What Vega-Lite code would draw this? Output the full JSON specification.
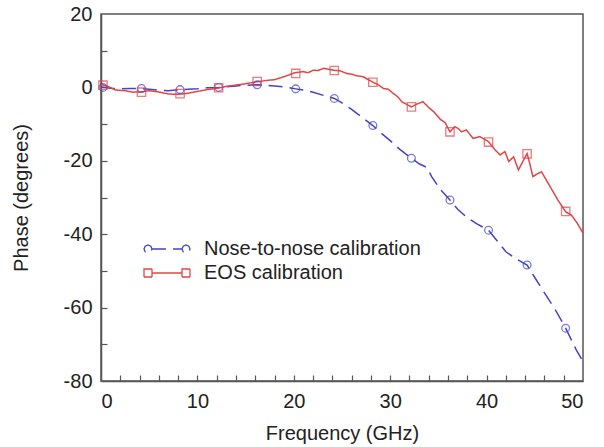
{
  "$schema": "https://vega.github.io/schema/vega-lite/v6.json",
  "width": 482,
  "height": 367,
  "autosize": "none",
  "padding": {"left": 101, "top": 14, "right": 21, "bottom": 66},
  "background": "white",
  "config": {
    "font": "Liberation Sans",
    "view": {"stroke": "#555", "strokeWidth": 1.5},
    "axis": {
      "grid": false,
      "domainColor": "#555",
      "domainWidth": 1.5,
      "tickColor": "#555",
      "tickWidth": 1.2,
      "labelFontSize": 20,
      "labelColor": "#222",
      "titleFontSize": 20,
      "titleFontWeight": "normal",
      "titleColor": "#222"
    }
  },
  "resolve": {"axis": {"x": "independent", "y": "independent"}},
  "datasets": {
    "curves": [
      {"f": 0, "phase": 0.1, "series": "Nose-to-nose calibration"},
      {"f": 1, "phase": -0.2, "series": "Nose-to-nose calibration"},
      {"f": 2, "phase": -0.4, "series": "Nose-to-nose calibration"},
      {"f": 3, "phase": -0.3, "series": "Nose-to-nose calibration"},
      {"f": 4.2, "phase": -0.3, "series": "Nose-to-nose calibration"},
      {"f": 5, "phase": -0.5, "series": "Nose-to-nose calibration"},
      {"f": 6, "phase": -0.8, "series": "Nose-to-nose calibration"},
      {"f": 7, "phase": -0.9, "series": "Nose-to-nose calibration"},
      {"f": 8.2, "phase": -0.6, "series": "Nose-to-nose calibration"},
      {"f": 9, "phase": -0.5, "series": "Nose-to-nose calibration"},
      {"f": 10, "phase": -0.4, "series": "Nose-to-nose calibration"},
      {"f": 11, "phase": -0.1, "series": "Nose-to-nose calibration"},
      {"f": 12.2, "phase": 0, "series": "Nose-to-nose calibration"},
      {"f": 13, "phase": 0.2, "series": "Nose-to-nose calibration"},
      {"f": 14, "phase": 0.4, "series": "Nose-to-nose calibration"},
      {"f": 15, "phase": 0.6, "series": "Nose-to-nose calibration"},
      {"f": 16.2, "phase": 0.7, "series": "Nose-to-nose calibration"},
      {"f": 17, "phase": 0.6, "series": "Nose-to-nose calibration"},
      {"f": 18, "phase": 0.4, "series": "Nose-to-nose calibration"},
      {"f": 19, "phase": 0.1, "series": "Nose-to-nose calibration"},
      {"f": 20.2, "phase": -0.4, "series": "Nose-to-nose calibration"},
      {"f": 21, "phase": -0.7, "series": "Nose-to-nose calibration"},
      {"f": 22, "phase": -1.3, "series": "Nose-to-nose calibration"},
      {"f": 23, "phase": -2.1, "series": "Nose-to-nose calibration"},
      {"f": 24.2, "phase": -3.0, "series": "Nose-to-nose calibration"},
      {"f": 25, "phase": -4.2, "series": "Nose-to-nose calibration"},
      {"f": 26, "phase": -6.0, "series": "Nose-to-nose calibration"},
      {"f": 27, "phase": -8.0, "series": "Nose-to-nose calibration"},
      {"f": 28.2, "phase": -10.4, "series": "Nose-to-nose calibration"},
      {"f": 29, "phase": -12.3, "series": "Nose-to-nose calibration"},
      {"f": 30, "phase": -14.5, "series": "Nose-to-nose calibration"},
      {"f": 31, "phase": -16.9, "series": "Nose-to-nose calibration"},
      {"f": 32.2, "phase": -19.3, "series": "Nose-to-nose calibration"},
      {"f": 33, "phase": -20.8, "series": "Nose-to-nose calibration"},
      {"f": 33.8, "phase": -21.8, "series": "Nose-to-nose calibration"},
      {"f": 34.3, "phase": -24.3, "series": "Nose-to-nose calibration"},
      {"f": 35.2, "phase": -27.8, "series": "Nose-to-nose calibration"},
      {"f": 36.2, "phase": -30.7, "series": "Nose-to-nose calibration"},
      {"f": 37, "phase": -33.2, "series": "Nose-to-nose calibration"},
      {"f": 38, "phase": -35.5, "series": "Nose-to-nose calibration"},
      {"f": 39, "phase": -37.2, "series": "Nose-to-nose calibration"},
      {"f": 40.2, "phase": -38.9, "series": "Nose-to-nose calibration"},
      {"f": 41, "phase": -41.5, "series": "Nose-to-nose calibration"},
      {"f": 42, "phase": -44.8, "series": "Nose-to-nose calibration"},
      {"f": 43, "phase": -46.6, "series": "Nose-to-nose calibration"},
      {"f": 44.2, "phase": -48.4, "series": "Nose-to-nose calibration"},
      {"f": 45, "phase": -51.8, "series": "Nose-to-nose calibration"},
      {"f": 46, "phase": -56.0, "series": "Nose-to-nose calibration"},
      {"f": 47, "phase": -60.0, "series": "Nose-to-nose calibration"},
      {"f": 48.2, "phase": -65.6, "series": "Nose-to-nose calibration"},
      {"f": 49.3, "phase": -71.5, "series": "Nose-to-nose calibration"},
      {"f": 50, "phase": -74.7, "series": "Nose-to-nose calibration"},
      {"f": 0, "phase": 0.8, "series": "EOS calibration"},
      {"f": 0.7, "phase": 0.3, "series": "EOS calibration"},
      {"f": 1.5, "phase": -0.7, "series": "EOS calibration"},
      {"f": 2.5, "phase": -0.9, "series": "EOS calibration"},
      {"f": 3.3, "phase": -1.3, "series": "EOS calibration"},
      {"f": 4.2, "phase": -1.2, "series": "EOS calibration"},
      {"f": 5.0, "phase": -0.9, "series": "EOS calibration"},
      {"f": 5.9, "phase": -1.2, "series": "EOS calibration"},
      {"f": 7.0, "phase": -1.8, "series": "EOS calibration"},
      {"f": 8.0, "phase": -1.9, "series": "EOS calibration"},
      {"f": 9.0, "phase": -1.6, "series": "EOS calibration"},
      {"f": 9.8, "phase": -1.2, "series": "EOS calibration"},
      {"f": 11.0, "phase": -0.6, "series": "EOS calibration"},
      {"f": 12.2, "phase": -0.2, "series": "EOS calibration"},
      {"f": 13.0, "phase": 0.3, "series": "EOS calibration"},
      {"f": 13.9, "phase": 0.6, "series": "EOS calibration"},
      {"f": 15.0, "phase": 1.0, "series": "EOS calibration"},
      {"f": 16.3, "phase": 1.6, "series": "EOS calibration"},
      {"f": 17.2, "phase": 1.9, "series": "EOS calibration"},
      {"f": 18.0, "phase": 2.1, "series": "EOS calibration"},
      {"f": 18.6, "phase": 2.6, "series": "EOS calibration"},
      {"f": 19.3, "phase": 3.2, "series": "EOS calibration"},
      {"f": 20.1, "phase": 4.0, "series": "EOS calibration"},
      {"f": 21.0, "phase": 4.3, "series": "EOS calibration"},
      {"f": 21.5, "phase": 4.0, "series": "EOS calibration"},
      {"f": 22.0, "phase": 4.7, "series": "EOS calibration"},
      {"f": 22.5, "phase": 4.6, "series": "EOS calibration"},
      {"f": 23.1, "phase": 5.2, "series": "EOS calibration"},
      {"f": 24.1, "phase": 4.7, "series": "EOS calibration"},
      {"f": 24.8, "phase": 4.5, "series": "EOS calibration"},
      {"f": 25.5, "phase": 3.8, "series": "EOS calibration"},
      {"f": 26.0, "phase": 3.6, "series": "EOS calibration"},
      {"f": 26.5, "phase": 3.2, "series": "EOS calibration"},
      {"f": 27.2, "phase": 2.9, "series": "EOS calibration"},
      {"f": 28.2, "phase": 1.4, "series": "EOS calibration"},
      {"f": 28.7, "phase": 0.8, "series": "EOS calibration"},
      {"f": 29.3, "phase": -0.3, "series": "EOS calibration"},
      {"f": 29.8, "phase": -0.5, "series": "EOS calibration"},
      {"f": 30.3, "phase": -1.6, "series": "EOS calibration"},
      {"f": 30.8, "phase": -2.6, "series": "EOS calibration"},
      {"f": 31.2, "phase": -3.9, "series": "EOS calibration"},
      {"f": 31.7, "phase": -4.6, "series": "EOS calibration"},
      {"f": 32.2, "phase": -5.3, "series": "EOS calibration"},
      {"f": 32.8, "phase": -4.5, "series": "EOS calibration"},
      {"f": 33.4, "phase": -3.9, "series": "EOS calibration"},
      {"f": 34.0, "phase": -5.5, "series": "EOS calibration"},
      {"f": 34.5, "phase": -6.6, "series": "EOS calibration"},
      {"f": 35.2, "phase": -8.7, "series": "EOS calibration"},
      {"f": 35.7, "phase": -9.6, "series": "EOS calibration"},
      {"f": 36.2, "phase": -12.1, "series": "EOS calibration"},
      {"f": 36.7, "phase": -10.7, "series": "EOS calibration"},
      {"f": 37.1, "phase": -11.3, "series": "EOS calibration"},
      {"f": 37.4, "phase": -12.1, "series": "EOS calibration"},
      {"f": 37.9, "phase": -11.6, "series": "EOS calibration"},
      {"f": 38.6, "phase": -13.9, "series": "EOS calibration"},
      {"f": 39.3, "phase": -13.4, "series": "EOS calibration"},
      {"f": 40.2, "phase": -14.8, "series": "EOS calibration"},
      {"f": 40.9, "phase": -17.1, "series": "EOS calibration"},
      {"f": 41.4, "phase": -18.4, "series": "EOS calibration"},
      {"f": 41.9, "phase": -17.5, "series": "EOS calibration"},
      {"f": 42.3, "phase": -20.2, "series": "EOS calibration"},
      {"f": 42.8, "phase": -18.9, "series": "EOS calibration"},
      {"f": 43.3, "phase": -22.5, "series": "EOS calibration"},
      {"f": 43.7, "phase": -20.5, "series": "EOS calibration"},
      {"f": 44.2, "phase": -18.0, "series": "EOS calibration"},
      {"f": 44.5, "phase": -21.0, "series": "EOS calibration"},
      {"f": 44.8, "phase": -24.3, "series": "EOS calibration"},
      {"f": 45.3, "phase": -23.5, "series": "EOS calibration"},
      {"f": 45.7, "phase": -23.0, "series": "EOS calibration"},
      {"f": 46.6, "phase": -27.1, "series": "EOS calibration"},
      {"f": 47.4, "phase": -30.7, "series": "EOS calibration"},
      {"f": 48.2, "phase": -33.9, "series": "EOS calibration"},
      {"f": 48.8, "phase": -34.8, "series": "EOS calibration"},
      {"f": 49.4, "phase": -37.0, "series": "EOS calibration"},
      {"f": 50.0, "phase": -39.7, "series": "EOS calibration"}
    ],
    "markers": [
      {"f": 0.2, "phase": 0.0, "series": "Nose-to-nose calibration"},
      {"f": 4.2, "phase": -0.3, "series": "Nose-to-nose calibration"},
      {"f": 8.2, "phase": -0.6, "series": "Nose-to-nose calibration"},
      {"f": 12.2, "phase": 0.0, "series": "Nose-to-nose calibration"},
      {"f": 16.2, "phase": 0.7, "series": "Nose-to-nose calibration"},
      {"f": 20.2, "phase": -0.4, "series": "Nose-to-nose calibration"},
      {"f": 24.2, "phase": -3.0, "series": "Nose-to-nose calibration"},
      {"f": 28.2, "phase": -10.4, "series": "Nose-to-nose calibration"},
      {"f": 32.2, "phase": -19.3, "series": "Nose-to-nose calibration"},
      {"f": 36.2, "phase": -30.7, "series": "Nose-to-nose calibration"},
      {"f": 40.2, "phase": -38.9, "series": "Nose-to-nose calibration"},
      {"f": 44.2, "phase": -48.4, "series": "Nose-to-nose calibration"},
      {"f": 48.2, "phase": -65.6, "series": "Nose-to-nose calibration"},
      {"f": 0.2, "phase": 0.6, "series": "EOS calibration"},
      {"f": 4.2, "phase": -1.3, "series": "EOS calibration"},
      {"f": 8.2, "phase": -1.7, "series": "EOS calibration"},
      {"f": 12.2, "phase": -0.1, "series": "EOS calibration"},
      {"f": 16.2, "phase": 1.6, "series": "EOS calibration"},
      {"f": 20.2, "phase": 3.8, "series": "EOS calibration"},
      {"f": 24.2, "phase": 4.6, "series": "EOS calibration"},
      {"f": 28.2, "phase": 1.4, "series": "EOS calibration"},
      {"f": 32.2, "phase": -5.3, "series": "EOS calibration"},
      {"f": 36.2, "phase": -12.1, "series": "EOS calibration"},
      {"f": 40.2, "phase": -14.9, "series": "EOS calibration"},
      {"f": 44.2, "phase": -18.1, "series": "EOS calibration"},
      {"f": 48.2, "phase": -33.8, "series": "EOS calibration"}
    ]
  },
  "encoding": {
    "x": {
      "field": "f",
      "type": "quantitative",
      "scale": {"domain": [0, 50], "nice": false},
      "axis": null
    },
    "y": {
      "field": "phase",
      "type": "quantitative",
      "scale": {"domain": [-80, 20], "nice": false},
      "axis": null
    }
  },
  "layer": [
    {
      "data": {"name": "curves"},
      "mark": {"type": "line", "strokeWidth": 1.5},
      "encoding": {
        "x": {
          "field": "f",
          "type": "quantitative",
          "axis": {
            "orient": "bottom",
            "title": "Frequency (GHz)",
            "values": [0, 10, 20, 30, 40, 50],
            "labelExpr": "toString(datum.value)",
            "ticks": false,
            "labelPadding": 10,
            "titlePadding": 12
          }
        },
        "y": {
          "field": "phase",
          "type": "quantitative",
          "axis": {
            "orient": "left",
            "title": "Phase (degrees)",
            "values": [-80, -60, -40, -20, 0, 20],
            "labelExpr": "toString(datum.value)",
            "ticks": false,
            "labelPadding": 9,
            "titlePadding": 32
          }
        },
        "color": {
          "field": "series",
          "type": "nominal",
          "scale": {"domain": ["Nose-to-nose calibration", "EOS calibration"], "range": ["#4343c6", "#e04646"]},
          "legend": {
            "title": null,
            "orient": "none",
            "legendX": 56,
            "legendY": 225,
            "symbolSize": 100,
            "symbolStrokeWidth": 1.3,
            "labelFontSize": 20,
            "labelColor": "#222",
            "labelOffset": 27,
            "labelLimit": 400,
            "rowPadding": 4,
            "encode": {
              "symbols": {
                "update": {
                  "shape": {"signal": "datum.value === 'EOS calibration' ? 'M-4.6,-0.8 L-3.0,-0.8 L-3.0,0.8 L-4.6,0.8 Z M-3.0,0 L3.0,0 M3.0,-0.8 L4.6,-0.8 L4.6,0.8 L3.0,0.8 Z' : 'M-4.6,0 L-4.37,-0.57 L-3.8,-0.8 L-3.23,-0.57 L-3.0,0 L-3.23,0.57 L-3.8,0.8 L-4.37,0.57 Z M-3.0,0 L3.0,0 M3.0,0 L3.23,-0.57 L3.8,-0.8 L4.37,-0.57 L4.6,0 L4.37,0.57 L3.8,0.8 L3.23,0.57 Z'"}
                }
              }
            }
          }
        },
        "strokeDash": {
          "field": "series",
          "type": "nominal",
          "scale": {"domain": ["Nose-to-nose calibration", "EOS calibration"], "range": [[14, 7], [1, 0]]},
          "legend": null
        }
      }
    },
    {
      "data": {"name": "markers"},
      "transform": [{"filter": "datum.series === 'Nose-to-nose calibration'"}],
      "mark": {"type": "point", "shape": "circle", "filled": false, "strokeWidth": 1.3, "size": 60, "color": "#4343c6"}
    },
    {
      "data": {"name": "markers"},
      "transform": [{"filter": "datum.series === 'EOS calibration'"}],
      "mark": {"type": "point", "shape": "square", "filled": false, "strokeWidth": 1.3, "size": 70, "color": "#e04646"},
      "encoding": {
        "x": {
          "field": "f",
          "type": "quantitative",
          "axis": {
            "orient": "bottom",
            "title": null,
            "values": [2, 4, 6, 8, 10, 12, 14, 16, 18, 20, 22, 24, 26, 28, 30, 32, 34, 36, 38, 40, 42, 44, 46, 48],
            "labels": false,
            "domain": false,
            "tickSize": -6
          }
        },
        "y": {
          "field": "phase",
          "type": "quantitative",
          "axis": {
            "orient": "left",
            "title": null,
            "values": [-70, -60, -50, -40, -30, -20, -10, 0, 10],
            "labels": false,
            "domain": false,
            "tickSize": -6
          }
        }
      }
    }
  ]
}
